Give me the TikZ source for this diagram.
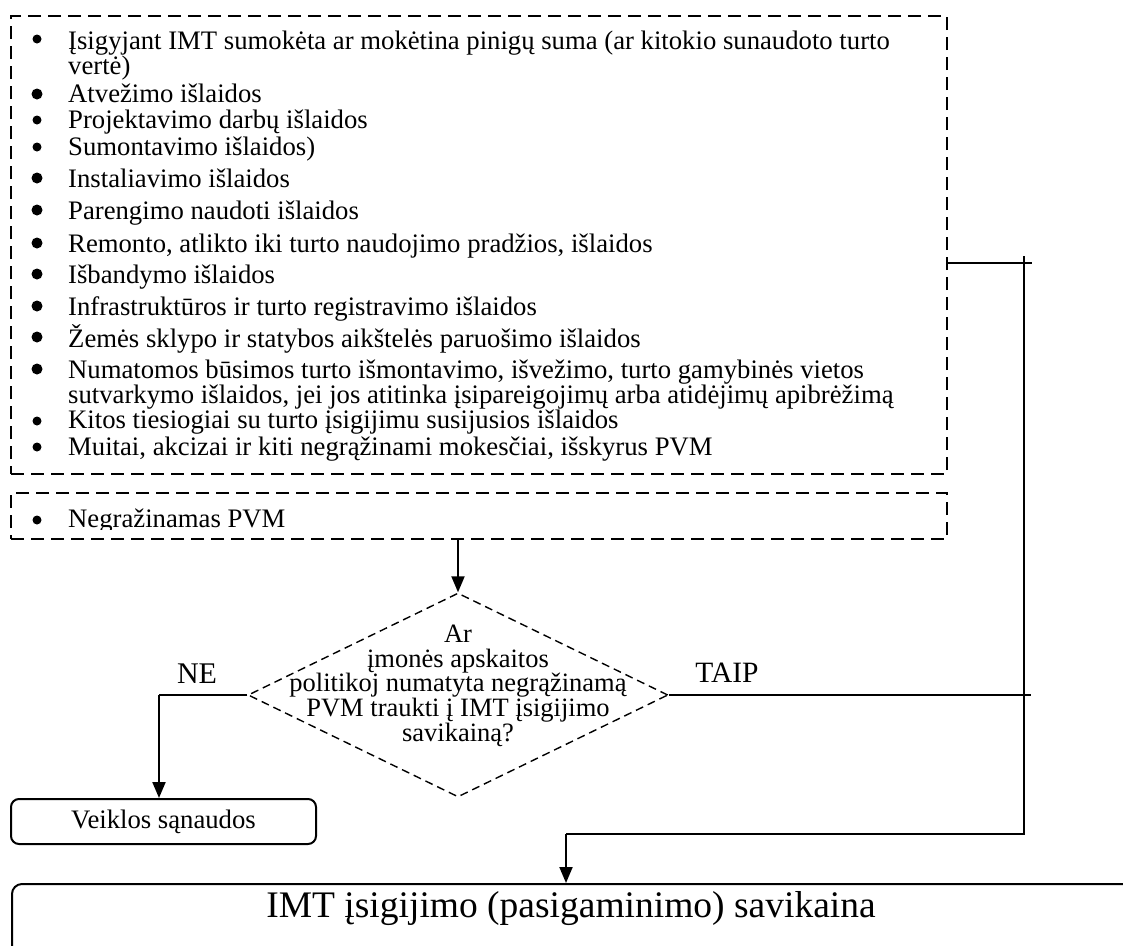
\documentclass[tikz,border=0pt]{standalone}
\usepackage{fontspec}
\setmainfont{Liberation Serif}
\usetikzlibrary{shapes.geometric,arrows.meta}
\begin{document}
\begin{tikzpicture}[x=1pt,y=-1pt,
  dashbox/.style={draw, line width=2pt, dash pattern=on 13pt off 7pt, inner sep=0pt, anchor=north west},
  itemtext/.style={anchor=base west, inner sep=0pt, font=\fontsize{26.7}{26.7}\selectfont},
  dtext/.style={anchor=base, inner sep=0pt, font=\fontsize{26.5}{26.5}\selectfont},
  bigdot/.style={circle, fill, inner sep=0pt, minimum size=11pt},
  smalldot/.style={circle, fill, inner sep=0pt, minimum size=9pt},
  conn/.style={line width=2pt},
  arr/.style={line width=2pt, -{Triangle[length=16pt,width=13pt]}},
  label/.style={anchor=base, inner sep=0pt, font=\fontsize{30}{30}\selectfont}
]
\useasboundingbox (0,0) rectangle (1123,945);
\clip (0,0) rectangle (1123,945);

% top dashed box
\node[dashbox, minimum width=936pt, minimum height=458pt] (topbox) at (10,15) {};
\node[smalldot] (b1) at (37,39) {};
\node[itemtext] (t1) at (68,49) {Įsigyjant IMT sumokėta ar mokėtina pinigų suma (ar kitokio sunaudoto turto};
\node[itemtext] (t1b) at (68,74) {vertė)};
\node[bigdot] (b2) at (37,94) {};
\node[itemtext] (t2) at (68,102) {Atvežimo išlaidos};
\node[smalldot] (b3) at (37,120) {};
\node[itemtext] (t3) at (68,128) {Projektavimo darbų išlaidos};
\node[smalldot] (b4) at (37,147) {};
\node[itemtext] (t4) at (68,155) {Sumontavimo išlaidos)};
\node[bigdot] (b5) at (37,178) {};
\node[itemtext] (t5) at (68,187) {Instaliavimo išlaidos};
\node[bigdot] (b6) at (37,210) {};
\node[itemtext] (t6) at (68,219) {Parengimo naudoti išlaidos};
\node[bigdot] (b7) at (37,243) {};
\node[itemtext] (t7) at (68,252) {Remonto, atlikto iki turto naudojimo pradžios, išlaidos};
\node[bigdot] (b8) at (37,274) {};
\node[itemtext] (t8) at (68,283) {Išbandymo išlaidos};
\node[bigdot] (b9) at (37,306) {};
\node[itemtext] (t9) at (68,315) {Infrastruktūros ir turto registravimo išlaidos};
\node[bigdot] (b10) at (37,337) {};
\node[itemtext] (t10) at (68,347) {Žemės sklypo ir statybos aikštelės paruošimo išlaidos};
\node[bigdot] (b11) at (37,369) {};
\node[itemtext] (t11) at (68,378) {Numatomos būsimos turto išmontavimo, išvežimo, turto gamybinės vietos};
\node[itemtext] (t11b) at (68,403) {sutvarkymo išlaidos, jei jos atitinka įsipareigojimų arba atidėjimų apibrėžimą};
\node[smalldot] (b12) at (37,421) {};
\node[itemtext] (t12) at (68,428) {Kitos tiesiogiai su turto įsigijimu susijusios išlaidos};
\node[smalldot] (b13) at (37,447) {};
\node[itemtext] (t13) at (68,455) {Muitai, akcizai ir kiti negrąžinami mokesčiai, išskyrus PVM};

% second dashed box
\node[dashbox, minimum width=936pt, minimum height=46pt] (pvmbox) at (10,492) {};
\node[smalldot] (b14) at (37,520) {};
\begin{scope}
\clip (40,495) rectangle (940,529);
\node[itemtext] (t14) at (68,527) {Negražinamas PVM};
\end{scope}

% decision
\node[diamond, draw, dash pattern=on 8pt off 5pt, line width=1.4pt, minimum width=420pt, minimum height=204pt, inner sep=0pt] (diam) at (458,695) {};
\node[dtext] (d1) at (458,642) {Ar};
\node[dtext] (d2) at (458,667) {įmonės apskaitos};
\node[dtext] (d3) at (458,691) {politikoj numatyta negrąžinamą};
\node[dtext] (d4) at (458,716) {PVM traukti į IMT įsigijimo};
\node[dtext] (d5) at (458,741) {savikainą?};

\draw[arr] (pvmbox.south -| diam.north) -- (diam.north);

% labels
\node[label] (ne) at (197,683) {NE};
\node[label, font=\fontsize{29.5}{29.5}\selectfont] (taip) at (727,682) {TAIP};

% result boxes
\node[draw, rounded corners=8pt, line width=2pt, minimum width=305pt, minimum height=45pt, inner sep=0pt, font=\fontsize{26.7}{26.7}\selectfont] (veik) at (163.5,821.5) {Veiklos sąnaudos};
\node[draw, rounded corners=10pt, line width=2pt, minimum width=1120pt, minimum height=90pt, anchor=north west, inner sep=0pt] (final) at (11,883) {};
\node[anchor=base, inner sep=0pt, font=\fontsize{37.5}{37.5}\selectfont] (finaltxt) at (571,917) {IMT įsigijimo (pasigaminimo) savikaina};

% connectors
\coordinate (rtick) at (1032,263);
\coordinate (vtop) at (1024,256);
\coordinate (vbot) at (1024,834);
\coordinate (ttick) at (1031,695);
\coordinate (bend) at (566,834);
\coordinate (nebend) at (159,695);
\draw[conn] (topbox.east |- rtick) -- (rtick);
\draw[conn] (diam.east) -- (diam.east -| ttick);
\draw[conn] (vtop) -- (vbot) -- (bend);
\draw[arr] (bend) -- (bend |- final.north);
\draw[conn] (diam.west) -- (diam.west -| nebend);
\draw[arr] (diam.west -| nebend) -- (nebend |- veik.north);
\end{tikzpicture}
\end{document}
